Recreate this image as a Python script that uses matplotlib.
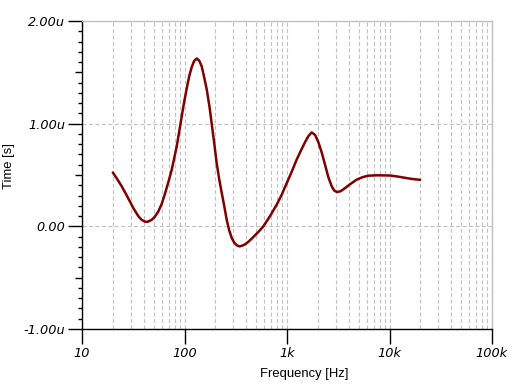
import matplotlib
matplotlib.use("Agg")
import matplotlib.pyplot as plt
from matplotlib.ticker import FixedLocator, NullFormatter

plt.rcParams['font.family'] = ['Liberation Sans', 'DejaVu Sans']

# data: frequency [Hz] and group delay [us]
freq = [20, 22, 24.4, 27, 29.4, 32, 35.4, 38, 41.2, 44, 47.9, 51, 55.6, 60,
        64.6, 70, 75, 80, 84, 90.4, 95, 99.6, 105, 111, 117.5, 124, 131.5,
        139, 147, 155, 165, 175, 184, 195, 206, 218, 231, 245, 258, 273, 289,
        306, 324, 343, 363, 390, 418, 450, 490, 525, 588, 680, 793, 890, 993,
        1110, 1243, 1370, 1500, 1620, 1742, 1880, 2022, 2180, 2350, 2530,
        2730, 2880, 3055, 3300, 3550, 4120, 4790, 5500, 6210, 7500, 10100,
        12000, 14700, 17000, 19900]
delay_us = [0.524, 0.462, 0.39, 0.31, 0.24, 0.17, 0.10, 0.065, 0.045, 0.045,
            0.064, 0.09, 0.145, 0.22, 0.32, 0.44, 0.55, 0.68, 0.78, 0.97,
            1.10, 1.22, 1.34, 1.46, 1.55, 1.61, 1.635, 1.615, 1.56, 1.46,
            1.33, 1.17, 1.005, 0.81, 0.616, 0.46, 0.324, 0.19, 0.064, -0.04,
            -0.114, -0.16, -0.185, -0.195, -0.19, -0.175, -0.152, -0.122,
            -0.085, -0.055, 0.0, 0.097, 0.21, 0.31, 0.42, 0.53, 0.65, 0.74,
            0.82, 0.88, 0.915, 0.89, 0.82, 0.72, 0.60, 0.48, 0.39, 0.35,
            0.335, 0.34, 0.36, 0.41, 0.455, 0.48, 0.493, 0.497, 0.495, 0.485,
            0.47, 0.46, 0.453]

x_ticks = [10, 100, 1000, 10000, 100000]
x_tick_labels = ["10", "100", "1k", "10k", "100k"]
y_ticks = [-1, 0, 1, 2]
y_tick_labels = ["-1.00u", "0.00", "1.00u", "2.00u"]

W, H = 520, 390
fig = plt.figure(figsize=(W / 100, H / 100), dpi=100)
L, R, T, B = 82, 492, 21, 329
ax = fig.add_axes([L / W, 1 - B / H, (R - L) / W, (B - T) / H])

grid_col = '#c0c0c0'
ax.plot(freq, delay_us, color='#800000', lw=1.8, zorder=3,
        solid_joinstyle='round', solid_capstyle='round')

ax.set_xscale('log')
ax.set_xlim(10, 100000)
ax.set_ylim(-1, 2)

tick_font = dict(family='DejaVu Sans', style='oblique', size=9.3)

ax.xaxis.set_major_locator(FixedLocator(x_ticks))
ax.set_xticklabels(x_tick_labels, **tick_font)
minor_x = [m * 10**e for e in range(1, 5) for m in range(2, 10)]
ax.xaxis.set_minor_locator(FixedLocator(minor_x))
ax.xaxis.set_minor_formatter(NullFormatter())

ax.yaxis.set_major_locator(FixedLocator(y_ticks))
ax.set_yticklabels(y_tick_labels, **tick_font)
minor_y = [i / 10 for i in range(-10, 21) if i % 5 != 0]
ax.yaxis.set_minor_locator(FixedLocator(minor_y))

ax.tick_params(axis='x', which='major', direction='out', length=11, width=1,
               color='black', pad=2)
ax.tick_params(axis='x', which='minor', length=0)
ax.tick_params(axis='y', which='major', direction='out', length=10, width=1,
               color='black', pad=2)
ax.tick_params(axis='y', which='minor', direction='out', length=3, width=1,
               color='black')

# mid ticks at half units
sec = ax.secondary_yaxis('left')
sec.yaxis.set_major_locator(FixedLocator([-0.5, 0.5, 1.5]))
sec.yaxis.set_major_formatter(NullFormatter())
sec.tick_params(axis='y', which='major', direction='out', length=5, width=1, color='black')
sec.tick_params(axis='y', which='minor', length=0)
sec.spines['left'].set_visible(False)

dash = (0, (3.6, 2.2))
ax.grid(True, axis='x', which='both', color=grid_col, linestyle=dash, lw=0.8)
ax.grid(True, axis='y', which='major', color=grid_col, linestyle=dash, lw=0.8)

for s in ['top', 'right']:
    ax.spines[s].set_color(grid_col)
    ax.spines[s].set_linewidth(1)
for s in ['left', 'bottom']:
    ax.spines[s].set_color('black')
    ax.spines[s].set_linewidth(1)

ax.set_xlabel('Frequency [Hz]', fontsize=9.4)
ax.set_ylabel('Time [s]', fontsize=9.4)
# label positions in axes coordinates (from pixel positions)
ax.xaxis.set_label_coords((304 - L) / (R - L), (B - 374) / (B - T))
ax.xaxis.label.set_va('center')
ax.yaxis.set_label_coords((9 - L) / (R - L), (B - 166) / (B - T))
ax.yaxis.label.set_va('center')

fig.savefig('out.png', dpi=100)
